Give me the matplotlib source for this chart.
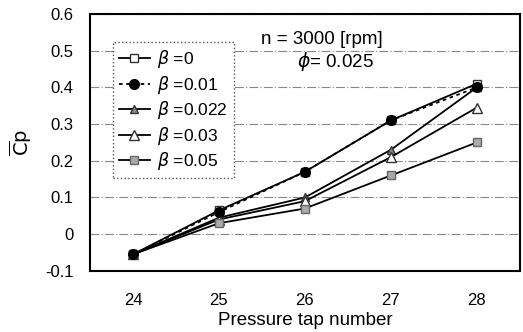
import numpy as np
import matplotlib.pyplot as plt

taps = [24, 25, 26, 27, 28]
cp_b0 = [-0.055, 0.065, 0.17, 0.31, 0.41]
cp_b001 = [-0.055, 0.06, 0.17, 0.31, 0.40]
cp_b0022 = [-0.055, 0.045, 0.10, 0.23, 0.40]
cp_b003 = [-0.055, 0.04, 0.09, 0.21, 0.345]
cp_b005 = [-0.055, 0.03, 0.07, 0.16, 0.25]
labels = [r'$\beta$ =0', r'$\beta$ =0.01', r'$\beta$ =0.022', r'$\beta$ =0.03', r'$\beta$ =0.05']

plt.rcParams['font.family'] = ['Liberation Sans', 'DejaVu Sans']
plt.rcParams['mathtext.fontset'] = 'dejavusans'

fig = plt.figure(figsize=(5.23, 3.32), dpi=100)
ax = fig.add_axes([0.172, 0.184, 0.822, 0.774])

# gridlines first so the lines sit on top
for yv in np.arange(-0.1, 0.61, 0.1):
    ax.axhline(yv, color='#888888', lw=0.8, ls=(0, (8, 2, 1, 2)), zorder=0)

ax.plot(taps, cp_b0, '-s', color='black', lw=1.3, ms=6, mfc='white', mec='#333333', label=labels[0], zorder=3)
ax.plot(taps, cp_b001, '--o', color='black', lw=1.3, ms=7, mfc='black', label=labels[1], dashes=(2, 2), zorder=4)
ax.plot(taps, cp_b0022, '-^', color='black', lw=1.3, ms=6, mfc='#888888', mec='#333333', label=labels[2], zorder=3)
ax.plot(taps, cp_b003, '-^', color='black', lw=1.3, ms=7, mfc='white', mec='#333333', label=labels[3], zorder=3)
ax.plot(taps, cp_b005, '-s', color='black', lw=1.3, ms=6, mfc='#aaaaaa', mec='#666666', label=labels[4], zorder=3)

ax.set_xlim(23.5, 28.5)
ax.set_ylim(-0.1, 0.6)
ax.set_xticks(taps)
ax.set_yticks(np.arange(-0.1, 0.61, 0.1))
ax.set_yticklabels(['-0.1', '0', '0.1', '0.2', '0.3', '0.4', '0.5', '0.6'])
ax.tick_params(axis='x', length=0, pad=16, labelsize=12)
ax.tick_params(axis='y', length=0, pad=12, labelsize=12)
for s in ax.spines.values():
    s.set_linewidth(1.5)

ax.set_xlabel('Pressure tap number', fontsize=13.5, labelpad=3)
ax.set_ylabel(r'$\overline{\mathrm{C}}\mathrm{p}$', fontsize=14, labelpad=8)

ax.text(0.54, 0.9, 'n = 3000 [rpm]', transform=ax.transAxes, fontsize=13.5, ha='center', va='center')
ax.text(0.57, 0.815, r'$\phi$= 0.025', transform=ax.transAxes, fontsize=13.5, ha='center', va='center')

leg = ax.legend(loc='upper left', bbox_to_anchor=(0.053, 0.89), borderaxespad=0,
                fontsize=12.5, handlelength=1.8, handletextpad=0.4, labelspacing=0.2,
                borderpad=0.35, fancybox=False, framealpha=1, edgecolor='#555555')
leg.get_frame().set_linestyle(':')
leg.get_frame().set_linewidth(1.0)

plt.savefig('out.png', dpi=100)
